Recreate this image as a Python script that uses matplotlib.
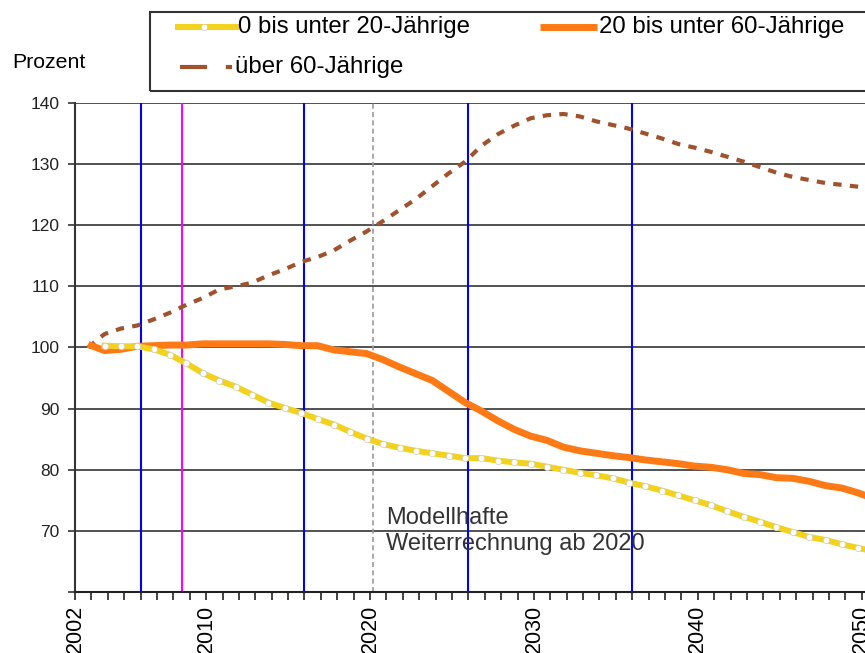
import numpy as np
import matplotlib
matplotlib.use("Agg")
import matplotlib.pyplot as plt
from matplotlib.lines import Line2D
from matplotlib.patches import Rectangle

plt.rcParams['font.family'] = ['Liberation Sans', 'DejaVu Sans']

# index values (start = 100), one value per year
years = np.arange(2002, 2051)
jung = [np.nan, 100.3, 100.2, 100.2, 99.7, 98.8, 97.4, 95.8, 94.6, 93.6,
        92.3, 91.0, 90.1, 89.3, 88.3, 87.4, 86.2, 85.1, 84.2, 83.6,
        83.1, 82.7, 82.3, 81.9, 81.9, 81.5, 81.2, 81.0, 80.5, 80.0,
        79.5, 79.1, 78.6, 77.9, 77.3, 76.6, 75.8, 75.0, 74.2, 73.2,
        72.3, 71.5, 70.6, 69.8, 69.0, 68.5, 67.8, 67.2, 66.6]
mitte = [100.5, 99.5, 99.7, 100.2, 100.3, 100.4, 100.4, 100.6, 100.6, 100.6,
         100.6, 100.6, 100.5, 100.3, 100.3, 99.6, 99.3, 99.0, 98.0, 96.8,
         95.7, 94.6, 92.8, 91.0, 89.6, 88.0, 86.6, 85.5, 84.8, 83.7,
         83.1, 82.7, 82.3, 82.0, 81.6, 81.3, 81.0, 80.6, 80.4, 80.0,
         79.4, 79.2, 78.7, 78.6, 78.1, 77.4, 77.0, 76.2, 75.2]
alt = [100.0, 102.2, 103.1, 103.6, 104.6, 105.7, 107.0, 108.1, 109.5, 110.0,
       110.6, 111.8, 112.8, 114.0, 114.8, 115.9, 117.5, 119.0, 120.7, 122.5,
       124.3, 126.4, 128.5, 130.4, 133.0, 134.9, 136.3, 137.5, 138.0, 138.2,
       137.8, 137.0, 136.4, 135.8, 135.0, 134.2, 133.3, 132.7, 132.0, 131.2,
       130.4, 129.5, 128.6, 127.9, 127.4, 126.9, 126.6, 126.3, 126.1]

labels = ['0 bis unter 20-Jährige', '20 bis unter 60-Jährige', 'über 60-Jährige']
label_years = [2002, 2010, 2020, 2030, 2040, 2050]
blue_years = [2006, 2016, 2026, 2036]
pink_year = 2008.5
model_year = 2020.2
y_ticks = [60, 70, 80, 90, 100, 110, 120, 130, 140]

col_jung = '#F2D21B'
col_mitte = '#FF7A15'
col_alt = '#A0522D'

W, H = 865, 653
fig = plt.figure(figsize=(W / 100, H / 100), dpi=100)
ax = fig.add_axes([75 / W, 1 - 592 / H, 790 / W, 489 / H])

x = years + 0.8  # values are drawn at year end

for yr in blue_years:
    ax.axvline(yr, color='#0000FF', lw=1.5, zorder=2)
ax.axvline(pink_year, color='#FF00FF', lw=1.5, zorder=2)
ax.axvline(model_year, color='#999999', lw=1.2, dashes=(3, 2), zorder=2)

ax.plot(x, alt, color=col_alt, lw=3, dashes=(2.0, 2.0), zorder=4)
ax.plot(x, mitte, color=col_mitte, lw=5, solid_capstyle='butt', zorder=4)
ax.plot(x, jung, color=col_jung, lw=4.3, marker='o', ms=4.6,
        mfc='white', mec='#cccccc', mew=0.5, zorder=5)

ax.text(2021.0, 73.9, 'Modellhafte\nWeiterrechnung ab 2020', fontsize=17,
        color='#333333', va='top', ha='left', linespacing=1.22, zorder=6)

ax.set_xlim(2002, 2050.2)
ax.set_ylim(60, 140)
ax.set_xticks(years)
ax.set_xticklabels([str(y) if y in label_years else '' for y in years],
                   rotation=90, fontsize=15.5)
ax.set_yticks(y_ticks)
ax.set_yticklabels([str(v) if v > 60 else '' for v in y_ticks], fontsize=12.5,
                   color='#222222')
ax.tick_params(axis='x', length=6, width=1.2, color='#222222', pad=3)
ax.tick_params(axis='y', length=5, width=1.2, color='#333333', pad=6)
ax.yaxis.grid(True, color='#333333', lw=1.2, zorder=1)
ax.set_axisbelow(True)
for s in ['top', 'right']:
    ax.spines[s].set_visible(False)
ax.spines['left'].set_color('#333333')
ax.spines['left'].set_linewidth(1.5)
ax.spines['bottom'].set_color('#222222')
ax.spines['bottom'].set_linewidth(1.5)

fig.text(12 / W, 1 - 62 / H, 'Prozent', fontsize=15.3, va='center', ha='left')

# legend box drawn by hand
def fx(px):
    return px / W

def fy(py):
    return 1 - py / H

fig.patches.append(Rectangle((fx(150), fy(91)), fx(885) - fx(150), fy(12) - fy(91),
                             transform=fig.transFigure, fill=False,
                             edgecolor='#333333', lw=1.5))
fig.lines.append(Line2D([fx(178), fx(236)], [fy(27), fy(27)], transform=fig.transFigure,
                        color=col_jung, lw=4.3))
fig.lines.append(Line2D([fx(204)], [fy(27)], transform=fig.transFigure, marker='o', ms=4.6,
                        mfc='white', mec='#cccccc', mew=0.5, lw=0))
fig.lines.append(Line2D([fx(540), fx(597)], [fy(27), fy(27)], transform=fig.transFigure,
                        color=col_mitte, lw=5, solid_capstyle='butt'))
fig.lines.append(Line2D([fx(180), fx(232)], [fy(67), fy(67)], transform=fig.transFigure,
                        color=col_alt, lw=3, dashes=(6.5, 4.5)))
fig.text(fx(238), fy(27), labels[0], fontsize=17.3, va='center', ha='left')
fig.text(fx(599), fy(27), labels[1], fontsize=17.3, va='center', ha='left')
fig.text(fx(235), fy(67), labels[2], fontsize=17.3, va='center', ha='left')

fig.savefig('out.png', dpi=100)
